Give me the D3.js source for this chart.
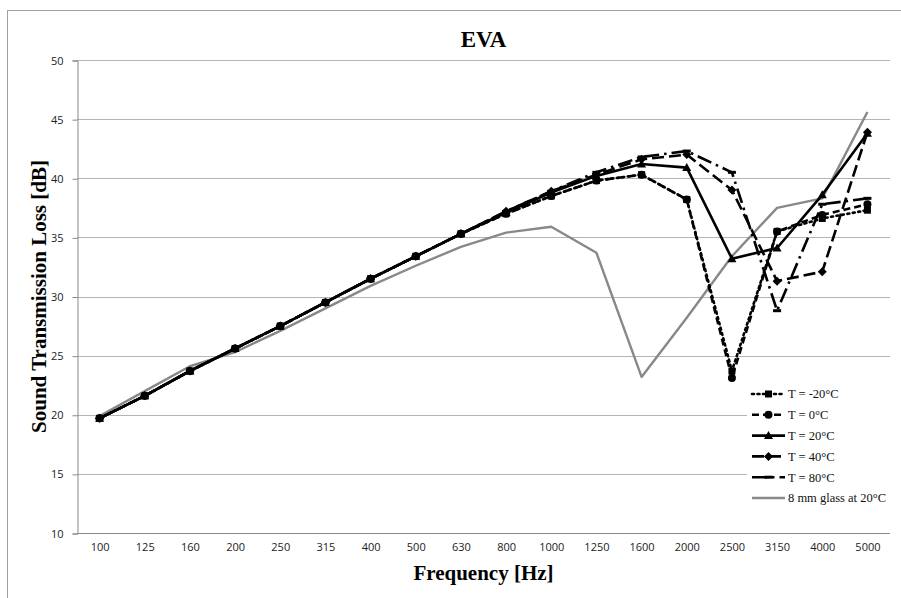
<!DOCTYPE html>
<html>
<head>
<meta charset="utf-8">
<script src="https://cdn.jsdelivr.net/npm/d3@7"></script>
<style>
  body { margin: 0; background: #fff; }
  svg { display: block; }
  .tick text { font-family: "Open Sans", "Liberation Sans", sans-serif; font-size: 11px; fill: #222; }
</style>
</head>
<body>
<svg width="901" height="598"></svg>
<script>
const frequencies = ["100", "125", "160", "200", "250", "315", "400", "500", "630", "800", "1000", "1250", "1600", "2000", "2500", "3150", "4000", "5000"];
const yTicks = [10, 15, 20, 25, 30, 35, 40, 45, 50];

const tMinus20 = [19.7, 21.6, 23.7, 25.6, 27.5, 29.5, 31.5, 33.4, 35.3, 37.0, 38.5, 39.8, 40.3, 38.2, 23.7, 35.5, 36.6, 37.3];
const t0 = [19.7, 21.6, 23.7, 25.6, 27.5, 29.5, 31.5, 33.4, 35.3, 37.0, 38.5, 39.8, 40.3, 38.2, 23.1, 35.5, 36.9, 37.8];
const t20 = [19.7, 21.6, 23.7, 25.6, 27.5, 29.5, 31.5, 33.4, 35.3, 37.1, 38.8, 40.2, 41.2, 40.9, 33.2, 34.1, 38.6, 43.8];
const t40 = [19.7, 21.6, 23.7, 25.6, 27.5, 29.5, 31.5, 33.4, 35.3, 37.2, 38.9, 40.3, 41.6, 42.0, 39.0, 31.3, 32.1, 43.9];
const t80 = [19.7, 21.6, 23.7, 25.6, 27.5, 29.5, 31.5, 33.4, 35.3, 37.2, 38.9, 40.5, 41.8, 42.3, 40.5, 28.8, 37.8, 38.3];
const glass8mm = [19.9, 22.0, 24.1, 25.3, 27.1, 29.0, 30.9, 32.6, 34.2, 35.4, 35.9, 33.7, 23.2, 28.2, 33.4, 37.5, 38.3, 45.6];

const seriesNames = ["T = -20°C", "T = 0°C", "T = 20°C", "T = 40°C", "T = 80°C", "8 mm glass at 20°C"];

const series = [
  { name: seriesNames[0], values: tMinus20, color: "#000", dash: "2,3.5", cap: "round", marker: "square" },
  { name: seriesNames[1], values: t0, color: "#000", dash: "7,4", cap: "butt", marker: "circle" },
  { name: seriesNames[2], values: t20, color: "#000", dash: null, cap: "butt", marker: "triangle" },
  { name: seriesNames[3], values: t40, color: "#000", dash: "12,5", cap: "butt", marker: "diamond" },
  { name: seriesNames[4], values: t80, color: "#000", dash: "15,5,2.5,5", cap: "butt", marker: "dash" },
  { name: seriesNames[5], values: glass8mm, color: "#888", dash: null, cap: "butt", marker: null }
];

const svg = d3.select("svg");
const margin = { left: 77, right: 11, top: 60, bottom: 65 };
const width = 901, height = 598;

// chart border
svg.append("rect")
  .attr("x", 7.5).attr("y", 10.5)
  .attr("width", 1000).attr("height", 1000)
  .attr("fill", "none").attr("stroke", "#a0a0a0");

const x = d3.scalePoint()
  .domain(frequencies)
  .range([margin.left, width - margin.right])
  .padding(0.5);

const y = d3.scaleLinear()
  .domain([10, 50])
  .range([height - margin.bottom, margin.top]);

// gridlines
svg.append("g")
  .selectAll("line")
  .data(yTicks.slice(1))
  .join("line")
  .attr("x1", margin.left).attr("x2", width - margin.right)
  .attr("y1", d => Math.round(y(d)) + 0.5).attr("y2", d => Math.round(y(d)) + 0.5)
  .attr("stroke", "#b4b4b4").attr("stroke-width", 1);

// y axis
const yAxis = svg.append("g")
  .attr("transform", `translate(${margin.left + 0.5},0.5)`)
  .call(d3.axisLeft(y).tickValues(yTicks).tickSize(5).tickPadding(9));
yAxis.select(".domain").attr("stroke", "#888");
yAxis.selectAll(".tick line").attr("stroke", "#888");

// x axis
const xAxis = svg.append("g")
  .attr("transform", `translate(0,${Math.round(y(10)) + 0.5})`)
  .call(d3.axisBottom(x).tickSize(0).tickPadding(10));
xAxis.select(".domain").attr("stroke", "#888").attr("d", `M${margin.left},0H${width - margin.right}`);

// lines
const line = d3.line()
  .x((d, i) => x(frequencies[i]))
  .y(d => y(d));

const drawOrder = [5, 0, 1, 2, 3, 4];
drawOrder.forEach(k => {
  const s = series[k];
  svg.append("path")
    .datum(s.values)
    .attr("fill", "none")
    .attr("stroke", s.color)
    .attr("stroke-width", s.marker ? 2.6 : 2.4)
    .attr("stroke-dasharray", s.dash)
    .attr("stroke-linecap", s.cap)
    .attr("stroke-linejoin", "round")
    .attr("d", line);
});

function drawMarker(g, type, cx, cy) {
  if (type === "square") {
    g.append("rect").attr("x", cx - 3.5).attr("y", cy - 3.5).attr("width", 7).attr("height", 7).attr("fill", "#000");
  } else if (type === "circle") {
    g.append("circle").attr("cx", cx).attr("cy", cy).attr("r", 4).attr("fill", "#000");
  } else if (type === "triangle") {
    g.append("path").attr("d", `M${cx},${cy - 4.5}L${cx + 4.5},${cy + 3.5}L${cx - 4.5},${cy + 3.5}Z`).attr("fill", "#000");
  } else if (type === "diamond") {
    g.append("path").attr("d", `M${cx},${cy - 4.5}L${cx + 4.5},${cy}L${cx},${cy + 4.5}L${cx - 4.5},${cy}Z`).attr("fill", "#000");
  } else if (type === "dash") {
    g.append("rect").attr("x", cx - 4).attr("y", cy - 1.5).attr("width", 8).attr("height", 3).attr("fill", "#000");
  }
}

drawOrder.forEach(k => {
  const s = series[k];
  if (!s.marker) return;
  const g = svg.append("g");
  s.values.forEach((v, i) => drawMarker(g, s.marker, x(frequencies[i]), y(v)));
});

// legend (white box covers the gridlines behind it)
svg.append("rect")
  .attr("x", 747).attr("y", 382)
  .attr("width", width - margin.right - 747).attr("height", 128)
  .attr("fill", "#fff");

const legend = svg.append("g").attr("transform", "translate(752,394)");
series.forEach((s, i) => {
  const g = legend.append("g").attr("transform", `translate(0,${i * 20.8})`);
  g.append("line")
    .attr("x1", 0).attr("x2", 33).attr("y1", 0).attr("y2", 0)
    .attr("stroke", s.color)
    .attr("stroke-width", s.marker ? 2.6 : 2.4)
    .attr("stroke-dasharray", s.dash)
    .attr("stroke-linecap", s.cap);
  if (s.marker) drawMarker(g, s.marker, 16.5, 0);
  g.append("text")
    .attr("x", 36).attr("y", 0).attr("dy", "0.35em")
    .attr("font-family", "Liberation Serif, Times New Roman, serif")
    .attr("font-size", 12.5)
    .attr("fill", "#111")
    .text(s.name);
});

// title
svg.append("text")
  .attr("x", (margin.left + width - margin.right) / 2).attr("y", 47)
  .attr("text-anchor", "middle")
  .attr("font-family", "Liberation Serif, Times New Roman, serif")
  .attr("font-weight", "bold")
  .attr("font-size", 23)
  .text("EVA");

// axis titles
svg.append("text")
  .attr("x", (margin.left + width - margin.right) / 2).attr("y", 580)
  .attr("text-anchor", "middle")
  .attr("font-family", "Liberation Serif, Times New Roman, serif")
  .attr("font-weight", "bold")
  .attr("font-size", 21)
  .text("Frequency [Hz]");

svg.append("text")
  .attr("transform", `translate(46,${(margin.top + height - margin.bottom) / 2}) rotate(-90)`)
  .attr("text-anchor", "middle")
  .attr("font-family", "Liberation Serif, Times New Roman, serif")
  .attr("font-weight", "bold")
  .attr("font-size", 21)
  .text("Sound Transmission Loss [dB]");
</script>
</body>
</html>
